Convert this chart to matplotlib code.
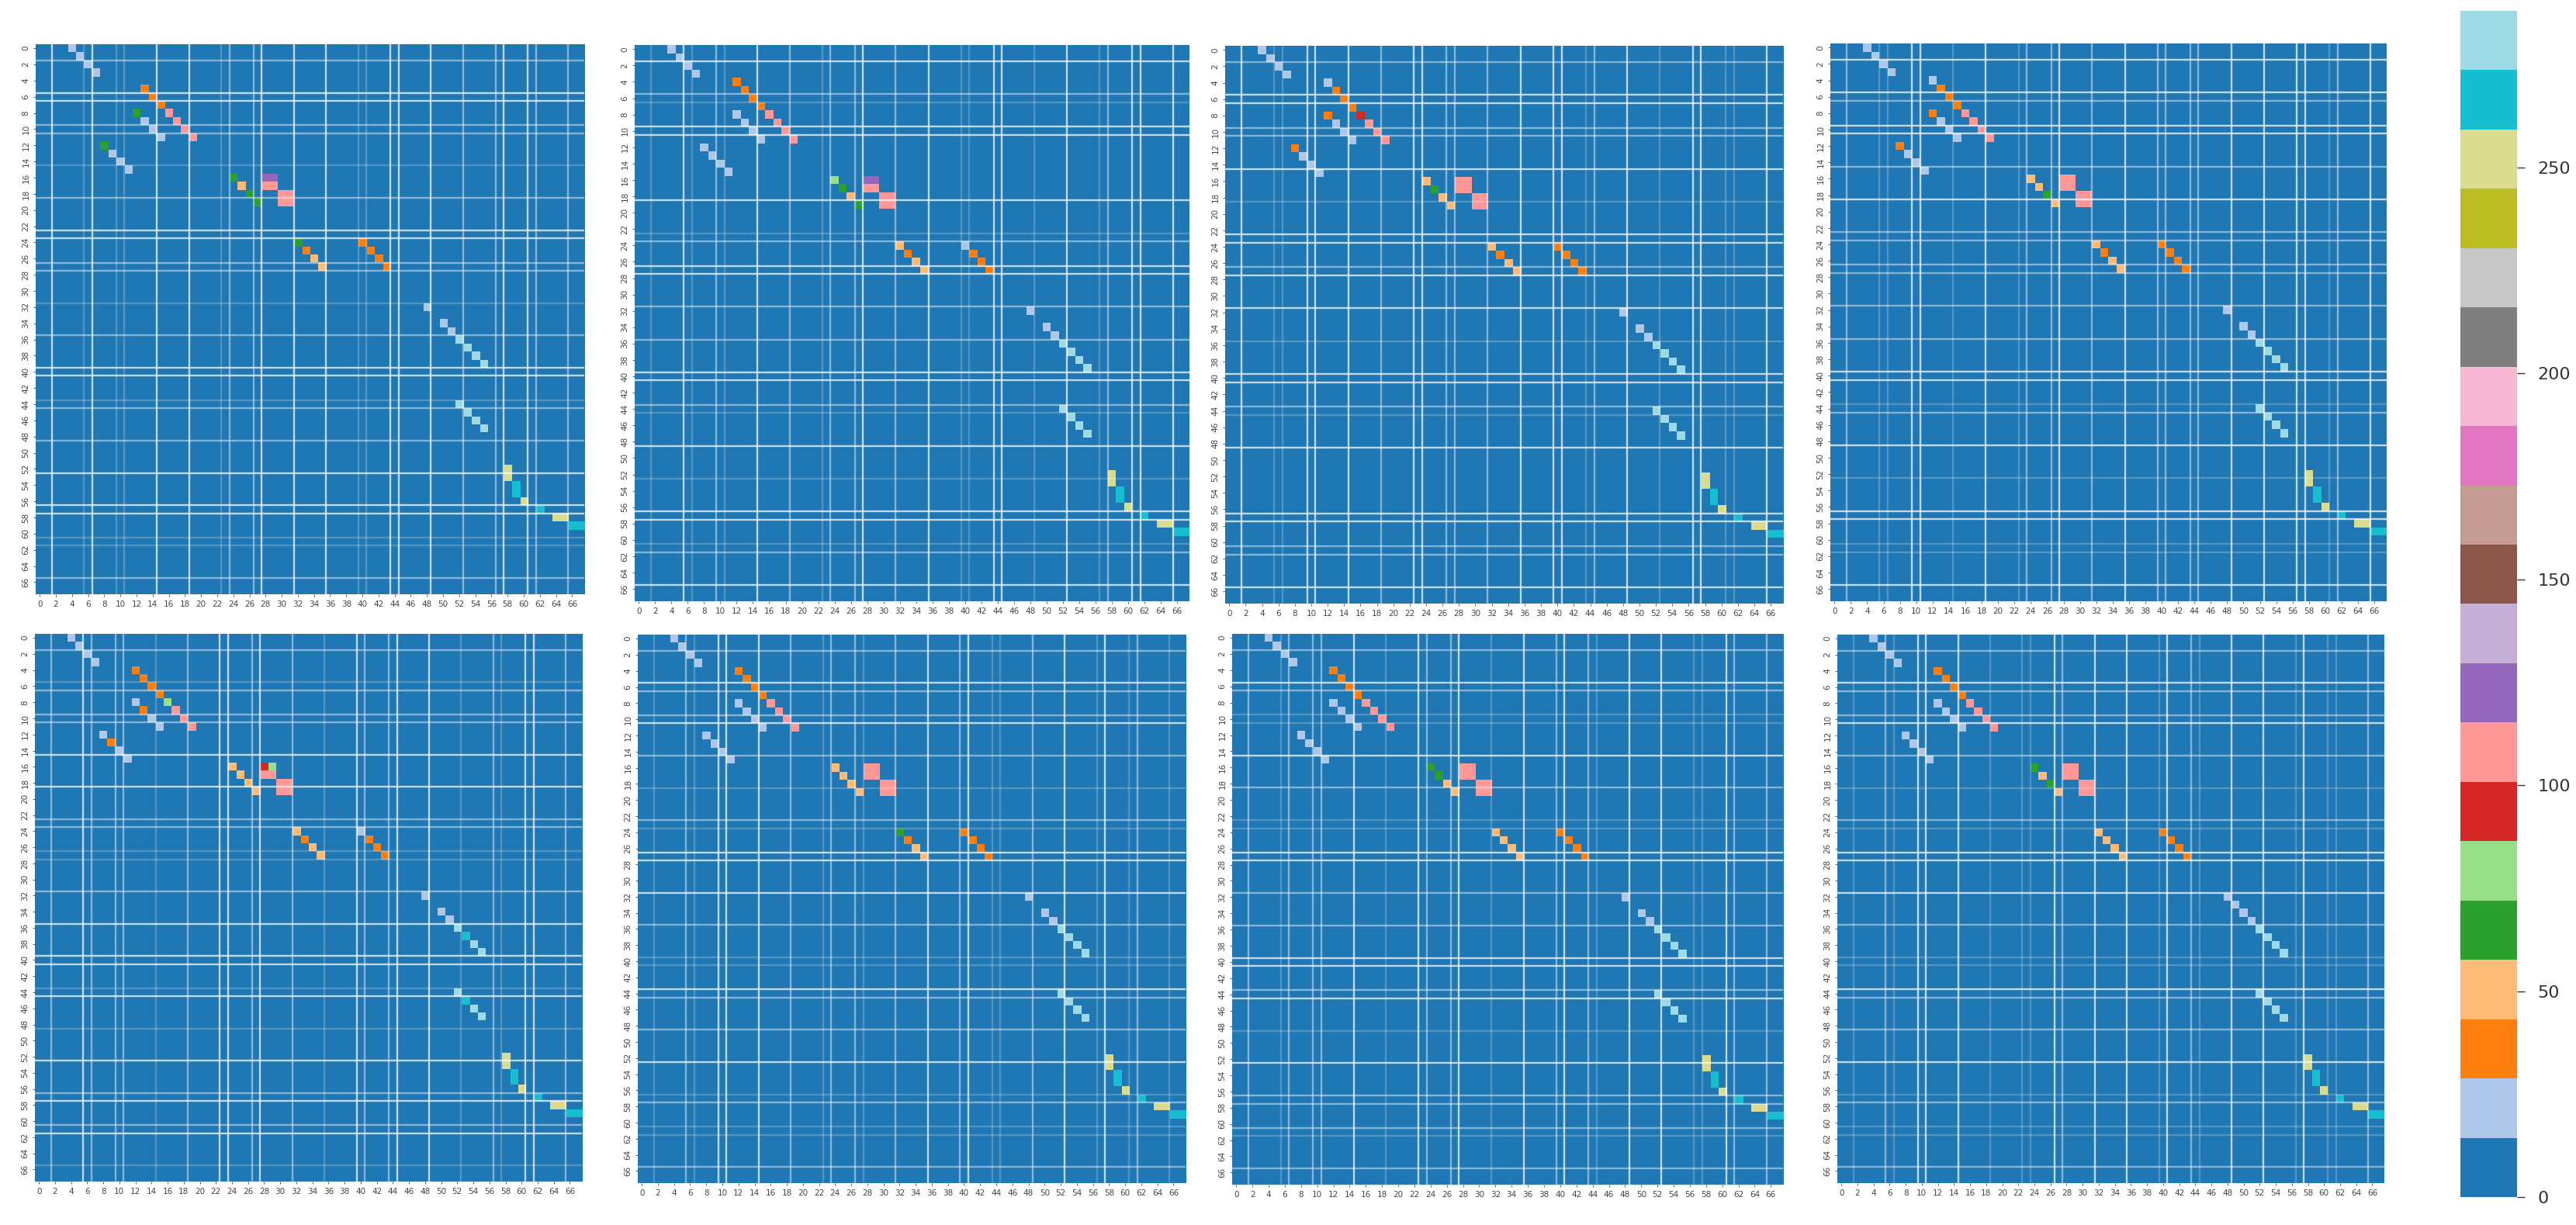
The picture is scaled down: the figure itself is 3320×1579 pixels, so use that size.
import matplotlib
matplotlib.use('Agg')
import matplotlib.pyplot as plt
import numpy as np
from matplotlib.cm import ScalarMappable
from matplotlib.colors import Normalize

W, H = 3320, 1579
N = 68
VMAX = 288

# cells that are lit in the usual panel (row, column, value)
rows = [0, 1, 2, 3,
        4, 5, 6, 7,
        8, 9, 10, 11,
        8, 9, 10, 11,
        12, 13, 14, 15,
        16, 17, 18, 19,
        16, 16, 17, 17, 18, 18, 19, 19,
        24, 25, 26, 27,
        24, 25, 26, 27,
        32, 34, 35,
        36, 37, 38, 39,
        44, 45, 46, 47,
        52, 53, 54, 55, 56, 57, 58, 58, 59, 59]
cols = [4, 5, 6, 7,
        12, 13, 14, 15,
        16, 17, 18, 19,
        12, 13, 14, 15,
        8, 9, 10, 11,
        24, 25, 26, 27,
        28, 29, 28, 29, 30, 31, 30, 31,
        32, 33, 34, 35,
        40, 41, 42, 43,
        48, 50, 51,
        52, 53, 54, 55,
        52, 53, 54, 55,
        58, 58, 59, 59, 60, 62, 64, 65, 66, 67]
vals = [20, 20, 20, 20,
        35, 35, 35, 35,
        110, 110, 110, 110,
        20, 20, 20, 20,
        20, 20, 20, 20,
        50, 50, 50, 50,
        110, 110, 110, 110, 110, 110, 110, 110,
        50, 35, 50, 50,
        35, 35, 35, 35,
        20, 20, 20,
        280, 280, 280, 280,
        280, 280, 280, 280,
        250, 250, 270, 270, 250, 270, 250, 250, 270, 270]

# what differs in each panel: (row, column, value)
changes = [
    [(4, 12, 0), (8, 12, 65), (12, 8, 65), (16, 24, 65), (18, 26, 65), (19, 27, 65),
     (16, 28, 125), (16, 29, 125), (24, 32, 65)],
    [(16, 24, 80), (17, 25, 65), (19, 27, 65), (16, 28, 125), (16, 29, 125), (24, 40, 20)],
    [(4, 12, 20), (8, 16, 95), (8, 12, 35), (12, 8, 35), (17, 25, 65)],
    [(4, 12, 20), (8, 12, 35), (12, 8, 35), (18, 26, 65)],
    [(8, 16, 80), (9, 13, 35), (13, 9, 35), (16, 28, 95), (16, 29, 80), (24, 40, 20),
     (37, 53, 270), (45, 53, 270)],
    [(24, 32, 65)],
    [(16, 24, 65), (17, 25, 65), (25, 33, 50)],
    [(16, 24, 65), (18, 26, 65), (25, 33, 50), (33, 49, 20)],
]

# cell borders where a white line shows, and how strongly, per panel
grid_pos = [2, 6, 7, 10, 11, 15, 19, 23, 24, 27, 28, 32, 36, 40, 41, 44, 45, 49, 53, 57, 58, 61, 62, 66]
v_levels = [
    [3, 1, 3, 1, 1, 3, 3, 1, 2, 2, 3, 3, 3, 1, 1, 3, 3, 3, 2, 2, 3, 3, 2, 2],
    [1, 3, 1, 2, 1, 3, 2, 1, 2, 2, 3, 2, 3, 1, 1, 3, 3, 1, 3, 1, 2, 3, 3, 3],
    [3, 1, 1, 3, 3, 3, 2, 3, 3, 2, 2, 2, 3, 3, 3, 1, 2, 3, 1, 3, 3, 1, 1, 3],
    [2, 1, 1, 3, 3, 1, 3, 1, 2, 2, 3, 2, 3, 2, 2, 2, 2, 3, 3, 3, 3, 1, 2, 3],
    [2, 3, 2, 2, 2, 1, 2, 3, 3, 2, 3, 2, 1, 3, 2, 2, 3, 3, 1, 2, 1, 3, 3, 2],
    [1, 2, 1, 3, 3, 3, 2, 1, 2, 2, 1, 2, 3, 2, 3, 1, 1, 2, 3, 1, 3, 1, 2, 1],
    [2, 1, 2, 2, 2, 3, 1, 3, 2, 2, 3, 1, 3, 2, 3, 2, 1, 3, 3, 1, 1, 3, 2, 2],
    [1, 2, 1, 3, 3, 3, 1, 1, 1, 3, 2, 3, 3, 1, 3, 2, 1, 3, 3, 1, 3, 1, 1, 2],
]
h_levels = [
    [2, 3, 3, 2, 2, 1, 2, 3, 3, 2, 2, 1, 2, 3, 3, 1, 2, 2, 3, 3, 3, 1, 1, 2],
    [3, 2, 1, 3, 3, 0, 3, 1, 2, 3, 3, 2, 2, 3, 3, 2, 1, 3, 1, 3, 3, 1, 2, 3],
    [2, 3, 3, 2, 2, 3, 1, 3, 3, 2, 3, 3, 1, 3, 3, 2, 1, 3, 0, 3, 3, 2, 2, 3],
    [3, 3, 2, 3, 3, 2, 3, 2, 2, 2, 2, 2, 2, 3, 3, 1, 2, 3, 1, 3, 3, 1, 1, 3],
    [2, 1, 2, 2, 2, 3, 3, 2, 2, 1, 1, 2, 3, 3, 3, 1, 3, 1, 3, 2, 3, 2, 3, 1],
    [2, 3, 2, 2, 3, 2, 1, 2, 1, 3, 3, 3, 2, 1, 1, 3, 2, 2, 3, 1, 2, 1, 1, 2],
    [2, 3, 2, 1, 1, 3, 2, 1, 1, 3, 3, 2, 2, 3, 3, 2, 3, 1, 3, 2, 2, 2, 1, 2],
    [2, 3, 2, 2, 3, 2, 1, 2, 1, 3, 3, 3, 2, 1, 1, 3, 2, 2, 3, 1, 2, 1, 1, 2],
]
level_alpha = [0, 0.22, 0.45, 0.72]

# panel corners in pixels: left, right, top, bottom
boxes = [
    (46, 753, 57, 766), (818, 1533, 58, 775), (1579, 2298, 59, 778), (2359, 3076, 56, 775),
    (45, 750, 817, 1523), (822, 1528, 818, 1525), (1588, 2298, 817, 1527), (2368, 3073, 818, 1525),
]

tick_pos = list(range(0, 67, 2))
cbar_ticks = [0, 50, 100, 150, 200, 250]


def add_axes_px(fig, left, right, top, bottom):
    return fig.add_axes([left / W, 1 - bottom / H, (right - left) / W, (bottom - top) / H])


fig = plt.figure(figsize=(W / 100, H / 100), dpi=100, facecolor='white')
cmap = plt.get_cmap('tab20')
norm = Normalize(0, VMAX)

for i, box in enumerate(boxes):
    ax = add_axes_px(fig, *box)
    data = np.zeros((N, N))
    data[rows, cols] = vals
    for r, c, v in changes[i]:
        data[r, c] = v
    ax.imshow(data, cmap=cmap, norm=norm, aspect='auto', interpolation='nearest')

    for pos, lev in zip(grid_pos, v_levels[i]):
        if lev:
            ax.axvline(pos - 0.5, color='white', lw=1.7, alpha=level_alpha[lev])
    for pos, lev in zip(grid_pos, h_levels[i]):
        if lev:
            ax.axhline(pos - 0.5, color='white', lw=1.7, alpha=level_alpha[lev])

    ax.set_xticks(tick_pos)
    ax.set_xticklabels(tick_pos)
    ax.set_yticks(tick_pos)
    ax.set_yticklabels(tick_pos, rotation=90, va='center')
    ax.tick_params(labelsize=7.5, length=2.5, width=0.6, pad=3, colors='#444444')
    for s in ax.spines.values():
        s.set_visible(False)

cax = add_axes_px(fig, 3171, 3244, 14, 1543)
cb = fig.colorbar(ScalarMappable(norm=norm, cmap=cmap), cax=cax, ticks=cbar_ticks)
cb.outline.set_visible(False)
cb.ax.tick_params(labelsize=16, length=7, width=1, pad=12, colors='#333333')

fig.savefig('out.png', dpi=100)
